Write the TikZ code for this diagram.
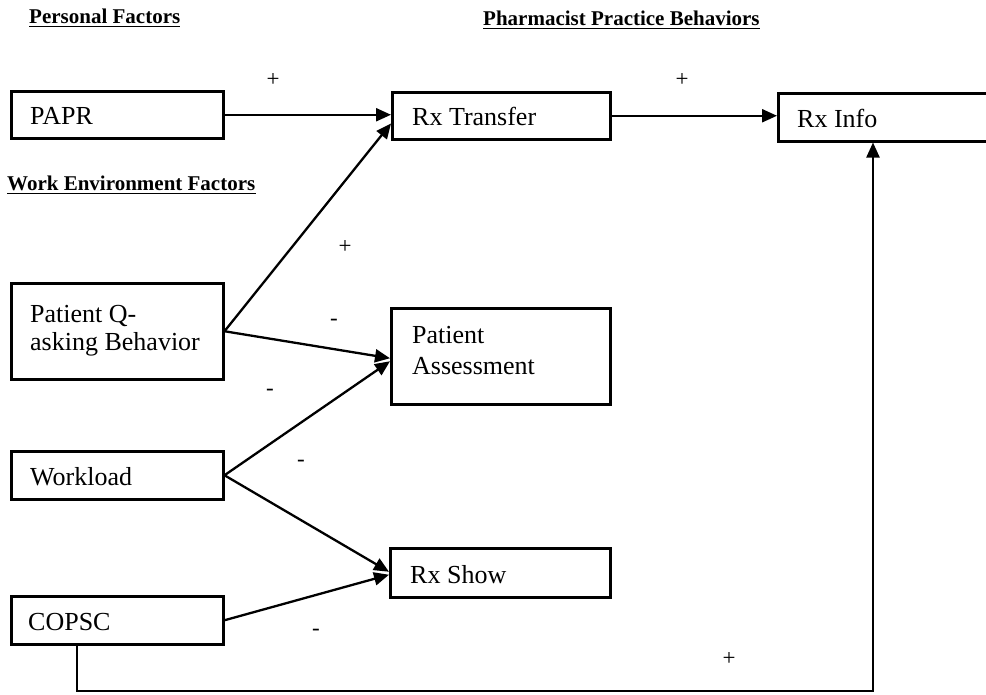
\documentclass[tikz,border=0pt]{standalone}
\usepackage{fontspec}
\setmainfont{Liberation Serif}
\usetikzlibrary{arrows.meta,calc}
\begin{document}
\begin{tikzpicture}[x=1pt,y=-1pt,
  box/.style={draw, line width=2.5pt, rectangle, anchor=north west, inner sep=0pt},
  lbl/.style={anchor=base west, inner sep=0pt, font=\fontsize{26}{30}\selectfont},
  hdr/.style={anchor=base west, inner sep=0pt, font=\fontsize{21}{25}\selectfont\bfseries},
  uline/.style={line width=1.6pt},
  sign/.style={inner sep=0pt, font=\fontsize{23}{26}\selectfont},
  link/.style={line width=2.3pt, -{Triangle[length=15pt,width=13pt]}},
  wire/.style={line width=2.3pt, line join=miter}]
\useasboundingbox (0,0) rectangle (986,694);

% section headings, underlined
\node[hdr] (hpers) at (29,23) {Personal Factors};
\node[hdr] (hpharm) at (483,25) {Pharmacist Practice Behaviors};
\node[hdr] (hwork) at (7,190) {Work Environment Factors};
\foreach \h in {hpers,hpharm,hwork}
  \draw[uline] ([yshift=-3.5pt]\h.base west) -- ([yshift=-3.5pt]\h.base east);

% factor boxes (left column)
\node[box, minimum width=212pt, minimum height=47pt] (papr) at (10,90) {};
\node[box, minimum width=212pt, minimum height=96pt] (pq) at (10,282) {};
\node[box, minimum width=212pt, minimum height=48pt] (wl) at (10,450) {};
\node[box, minimum width=212pt, minimum height=48pt] (copsc) at (10,595) {};

% behaviour boxes
\node[box, minimum width=218pt, minimum height=47pt] (rxt) at (391,91) {};
\node[box, minimum width=219pt, minimum height=96pt] (pa) at (390,307) {};
\node[box, minimum width=220pt, minimum height=49pt] (rxs) at (389,547) {};
\node[box, minimum width=260pt, minimum height=48pt] (rxi) at (777,92) {};

% box texts
\node[lbl] (paprt) at (30,124) {PAPR};
\node[lbl] (pqt1) at (30,322) {Patient Q-};
\node[lbl] (pqt2) at (30,350) {asking Behavior};
\node[lbl] (wlt) at (30,485) {Workload};
\node[lbl] (copsct) at (28,630) {COPSC};
\node[lbl] (rxtt) at (412,125) {Rx Transfer};
\node[lbl] (pat1) at (412,343) {Patient};
\node[lbl] (pat2) at (412,374) {Assessment};
\node[lbl] (rxst) at (410,583) {Rx Show};
\node[lbl] (rxit) at (797,127) {Rx Info};

% effect signs
\node[sign] (s1) at (273,80) {+};
\node[sign] (s2) at (682,80) {+};
\node[sign] (s3) at (345,247) {+};
\node[sign] (s4) at (334,322) {-};
\node[sign] (s5) at (270,392) {-};
\node[sign] (s6) at (301,463) {-};
\node[sign] (s7) at (316,632) {-};
\node[sign] (s8) at (729,659) {+};

% connectors
\draw[link] (papr.east) -- (papr.east -| rxt.west);
\draw[link] (rxt.east) -- (rxt.east -| rxi.west);
\draw[link] (pq.east) -- ([yshift=17pt]rxt.south west);
\draw[link] (pq.east) -- ([yshift=-2pt]pa.west);
\draw[link] (wl.east) -- ([yshift=-5pt]pa.west);
\draw[link] (wl.east) -- ([yshift=1pt]rxs.west);
\draw[link] (copsc.east) -- ([yshift=-2pt]rxs.west);

\coordinate (bl) at (77,691);
\coordinate (br) at (873,691);
\draw[wire, -{Triangle[length=15pt,width=13pt]}] (copsc.south -| bl) -- (bl) -- (br) -- (br |- rxi.south);
\end{tikzpicture}
\end{document}
